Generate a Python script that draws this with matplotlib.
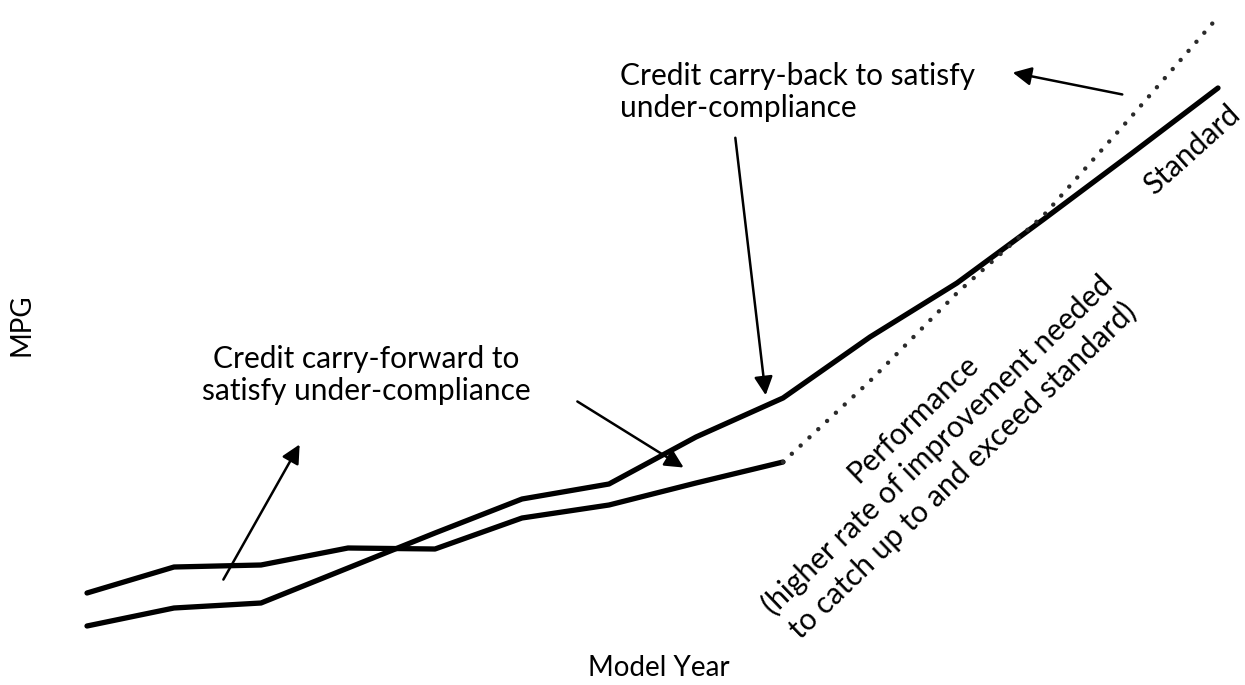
import matplotlib.pyplot as plt

# model years (index) and MPG values
years = list(range(2012, 2026))
standard = [25.0, 25.9, 26.15, 27.9, 29.65, 31.35, 32.1, 34.45, 36.4, 39.45, 42.15, 45.35, 48.6, 51.9]

perf_years = list(range(2012, 2021))
performance = [26.65, 27.95, 28.05, 28.9, 28.85, 30.4, 31.05, 32.15, 33.2]

# projected performance (dotted)
proj_years = list(range(2020, 2026))
projected = [33.2, 37.25, 41.65, 45.55, 50.45, 55.45]

plt.rcParams['font.family'] = ['Lato', 'DejaVu Sans']

fig = plt.figure(figsize=(12.45, 6.85), dpi=100)
ax = fig.add_axes([87/1245, 59/685, 1131/1245, 610/685])
ax.set_xlim(2012, 2025)
ax.set_ylim(25, 55.5)
ax.axis("off")

ax.plot(years, standard, color="black", lw=3.8, solid_capstyle="round", clip_on=False)
ax.plot(perf_years, performance, color="black", lw=3.8, solid_capstyle="round", clip_on=False)
ax.plot(proj_years, projected, color="#2a2a2a", lw=3.2,
        linestyle=(0, (0.01, 2.7)), dash_capstyle="round", clip_on=False)

fs = 21.5
arrow = dict(arrowstyle="-|>", color="black", lw=1.8, mutation_scale=28)

def fp(x, y):
    # pixel position (from top-left) -> figure pixels
    return (x, 685 - y)

fig.text(620/1245, 1 - 92/685, "Credit carry-back to satisfy\nunder-compliance",
         fontsize=fs, ha="left", va="center", linespacing=1.2)
fig.text(366/1245, 1 - 375/685, "Credit carry-forward to\nsatisfy under-compliance",
         fontsize=fs, ha="center", va="center", linespacing=1.2)

ax.annotate("", xy=fp(1010, 72), xytext=fp(1125, 95), xycoords="figure pixels",
            textcoords="figure pixels", arrowprops=arrow)
ax.annotate("", xy=fp(766, 398), xytext=fp(735, 135), xycoords="figure pixels",
            textcoords="figure pixels", arrowprops=arrow)
ax.annotate("", xy=fp(686, 469), xytext=fp(575, 400), xycoords="figure pixels",
            textcoords="figure pixels", arrowprops=arrow)
ax.annotate("", xy=fp(301, 442), xytext=fp(222, 582), xycoords="figure pixels",
            textcoords="figure pixels", arrowprops=arrow)

fig.text(1192/1245, 1 - 150/685, "Standard", fontsize=fs, rotation=42,
         ha="center", va="center", rotation_mode="anchor")
fig.text(938/1245, 1 - 445/685,
         "Performance\n(higher rate of improvement needed\nto catch up to and exceed standard)",
         fontsize=fs, rotation=44, ha="center", va="center", rotation_mode="anchor",
         linespacing=1.3)

fig.text(22/1245, 1 - 325/685, "MPG", fontsize=20, rotation=90, ha="center", va="center")
fig.text(659/1245, 1 - 668/685, "Model Year", fontsize=20, ha="center", va="center")

fig.savefig("out.png", dpi=100)
